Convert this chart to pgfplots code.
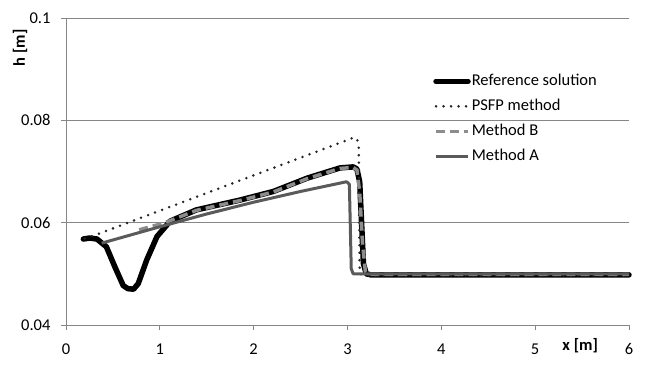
\documentclass[border=0pt]{standalone}
\usepackage{pgfplots}
\pgfplotsset{compat=1.18}
\usepackage{fontspec}
\setmainfont{Carlito}

\definecolor{gridgray}{HTML}{868686}
\definecolor{methA}{HTML}{5A5A5A}
\definecolor{methB}{HTML}{8C8C8C}
\definecolor{psfp}{HTML}{262626}

\begin{document}
\begin{tikzpicture}
  \useasboundingbox (0,0) rectangle (648pt,373pt);
  \node[rotate=90, font=\fontsize{16.5}{19}\selectfont\bfseries] at (20pt,325pt) {h [m]};
  \begin{axis}[
      at={(66pt,48pt)}, anchor=south west,
      scale only axis,
      width=563pt, height=307pt,
      xmin=0, xmax=6,
      ymin=0.04, ymax=0.1,
      clip=false,
      xtick={0,1,2,3,4,5,6},
      ytick={0.04,0.06,0.08,0.1},
      yticklabels={0.04,0.06,0.08,0.1},
      scaled y ticks=false,
      axis lines=left,
      axis line style={-, gridgray, line width=0.8pt},
      tick style={gridgray, line width=0.8pt},
      tick align=outside,
      major tick length=5pt,
      ymajorgrids=true,
      grid style={gridgray, line width=0.8pt},
      /pgf/number format/assume math mode=true,
      tick label style={font=\fontsize{16.5}{19}\selectfont},
      xticklabel style={yshift=-10pt},
      yticklabel style={xshift=-7pt},
      legend cell align=left,
      legend image code/.code={\draw[#1] (0pt,0pt) -- (32pt,0pt);},
      legend style={at={(axis description cs:0.652,0.835)}, anchor=north west,
        draw=none, fill=none, font=\fontsize{16.5}{19}\selectfont,
        row sep=0pt, inner sep=0pt,
        nodes={inner xsep=1pt, inner ysep=4.5pt, text height=12pt, text depth=4pt}},
    ]

    % Reference solution
    \addplot[black, line width=5.5pt, line join=round, line cap=round] coordinates {
      (0.185,0.0568)(0.25,0.0570)(0.33,0.0568)(0.43,0.0553)(0.52,0.0514)
      (0.61,0.0477)(0.66,0.0471)(0.72,0.0470)(0.77,0.0481)(0.86,0.0527)
      (0.97,0.0573)(1.11,0.0603)(1.39,0.0625)(1.85,0.0644)(2.21,0.0661)
      (2.57,0.0687)(2.92,0.0707)(3.06,0.0709)(3.10,0.0705)(3.13,0.0680)
      (3.15,0.0600)(3.17,0.0520)(3.20,0.0500)(3.25,0.0498)(6.0,0.0498)
    };

    % PSFP method
    \addplot[psfp, line width=2.8pt, line cap=round, dash pattern=on 0pt off 7.5pt] coordinates {
      (0.20,0.0569)(0.30,0.0575)(3.05,0.0765)(3.10,0.0765)(3.12,0.0750)
      (3.13,0.0500)(3.18,0.0497)(6.0,0.0497)
    };

    % Method B
    \addplot[methB, line width=3.5pt, dash pattern=on 9pt off 5pt] coordinates {
      (0.78,0.0586)(0.90,0.0592)(1.00,0.0597)(1.11,0.0604)(1.39,0.0624)
      (1.85,0.0643)(2.21,0.0660)(2.57,0.0686)(2.92,0.0706)(3.06,0.0708)
      (3.10,0.0703)(3.13,0.0660)(3.16,0.0560)(3.19,0.0505)(3.23,0.0499)
      (6.0,0.0499)
    };

    % Method A
    \addplot[methA, line width=3pt, line join=round] coordinates {
      (0.38,0.0560)(1.00,0.0592)(1.50,0.0617)(2.00,0.0640)(2.50,0.0661)
      (2.99,0.0680)(3.02,0.0675)(3.04,0.0510)(3.06,0.0500)(6.0,0.0500)
    };

    \legend{Reference solution,PSFP method,Method B,Method A}

    \node[anchor=north, font=\fontsize{16.5}{19}\selectfont\bfseries, yshift=-10pt]
      at (axis cs:5.48,0.04) {x [m]};
  \end{axis}
\end{tikzpicture}
\end{document}
